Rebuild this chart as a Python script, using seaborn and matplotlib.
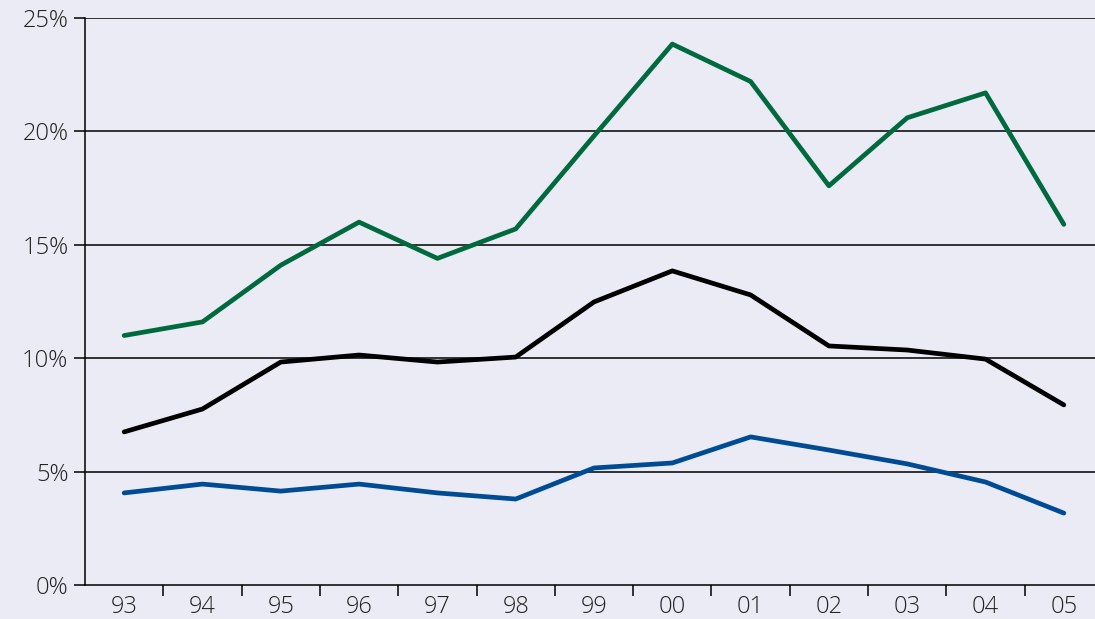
import matplotlib
matplotlib.use("Agg")
import matplotlib.pyplot as plt
import seaborn as sns
import pandas as pd
from matplotlib.ticker import FixedLocator, FuncFormatter

years = ["93", "94", "95", "96", "97", "98", "99", "00", "01", "02", "03", "04", "05"]
green = [11.0, 11.6, 14.1, 16.0, 14.4, 15.7, 19.8, 23.85, 22.2, 17.6, 20.6, 21.7, 15.9]
black = [6.75, 7.76, 9.83, 10.14, 9.83, 10.05, 12.48, 13.85, 12.79, 10.54, 10.36, 9.96, 7.94]
blue = [4.06, 4.45, 4.14, 4.45, 4.06, 3.79, 5.16, 5.38, 6.53, 5.95, 5.34, 4.54, 3.17]
yticks = [0, 5, 10, 15, 20, 25]

sns.set_theme(style="white")
plt.rcParams['font.family'] = ['Open Sans', 'DejaVu Sans']
plt.rcParams['font.weight'] = 'light'

bg = "#EBEBF5"
df = pd.DataFrame({
    "x": list(range(len(years))) * 3,
    "value": green + black + blue,
    "series": ["green"] * len(years) + ["black"] * len(years) + ["blue"] * len(years),
})
palette = {"green": "#006A3E", "black": "#000000", "blue": "#004C94"}

fig = plt.figure(figsize=(10.95, 6.19), dpi=100, facecolor=bg)
ax = fig.add_axes([85 / 1095, 1 - 585 / 619, 1018 / 1095, (585 - 18) / 619])
ax.set_facecolor(bg)

for y in yticks[1:]:
    ax.axhline(y, color="#000000", lw=1.1, zorder=1)

sns.lineplot(data=df, x="x", y="value", hue="series", palette=palette,
             linewidth=3.4, ax=ax, legend=False, zorder=3)

ax.set_xlim(-0.5, len(years) - 0.5)
ax.set_ylim(0, 25)
ax.set_xticks(range(len(years)))
ax.set_xticklabels(years)
ax.xaxis.set_minor_locator(FixedLocator([i + 0.5 for i in range(len(years) - 1)]))
ax.tick_params(axis="x", which="major", length=0, pad=7, labelsize=17, colors="#222222")
ax.tick_params(axis="x", which="minor", length=8, width=1.1, color="#000000", direction="out", bottom=True)
ax.set_yticks(yticks)
ax.yaxis.set_major_formatter(FuncFormatter(lambda v, p: f"{int(v)}%"))
ax.tick_params(axis="y", which="major", length=8, width=1.1, color="#000000", direction="out",
               left=True, pad=4, labelsize=17, labelcolor="#222222")
ax.set_xlabel("")
ax.set_ylabel("")
for s in ["top", "right"]:
    ax.spines[s].set_visible(False)
for s in ["left", "bottom"]:
    ax.spines[s].set_color("#000000")
    ax.spines[s].set_linewidth(1.1)

fig.savefig("out.png", dpi=100, facecolor=bg)
